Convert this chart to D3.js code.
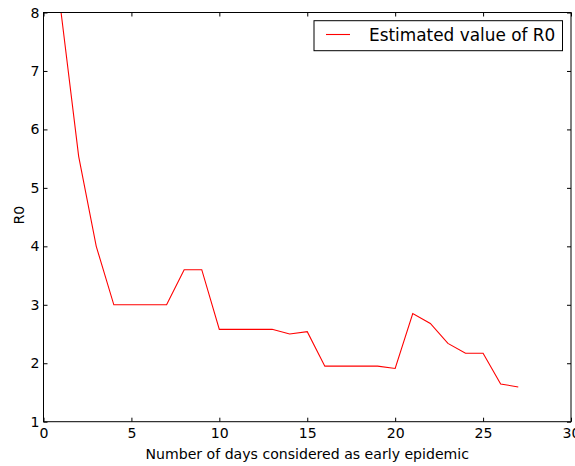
<!DOCTYPE html>
<html>
<head>
<meta charset="utf-8">
<script src="https://cdn.jsdelivr.net/npm/d3@7"></script>
<style>
  body { margin: 0; background: #fff; }
  svg { display: block; font-family: "DejaVu Sans", sans-serif; }
</style>
</head>
<body>
<svg id="chart" width="575" height="466"></svg>
<script>
// days considered as early epidemic
const days = [1, 2, 3, 4, 5, 6, 7, 8, 9, 10, 11, 12, 13, 14, 15, 16, 17, 18, 19, 20, 21, 22, 23, 24, 25, 26, 27];
// estimated R0 for each day count
const r0 = [8.0, 5.54, 4.0, 3.0, 3.0, 3.0, 3.0, 3.6, 3.6, 2.58, 2.58, 2.58, 2.58, 2.5, 2.54, 1.95, 1.95, 1.95, 1.95, 1.91, 2.85, 2.68, 2.34, 2.17, 2.17, 1.645, 1.595];
const xTicks = [0, 5, 10, 15, 20, 25, 30];
const yTicks = [1, 2, 3, 4, 5, 6, 7, 8];
const legendLabel = "Estimated value of R0";

const svg = d3.select("#chart");
const margin = {left: 43.5, top: 12.5, right: 4, bottom: 44.3};
const width = 575, height = 466;
const fs = 14.1;

const x = d3.scaleLinear().domain([0, 30]).range([margin.left, width - margin.right]);
const y = d3.scaleLinear().domain([1, 8]).range([height - margin.bottom, margin.top]);

// clip so the line stays in the frame
svg.append("clipPath").attr("id", "clip")
  .append("rect")
  .attr("x", x(0)).attr("y", y(8))
  .attr("width", x(30) - x(0)).attr("height", y(1) - y(8));

const line = d3.line().x((d, i) => x(days[i])).y(d => y(d));

svg.append("path")
  .datum(r0)
  .attr("clip-path", "url(#clip)")
  .attr("fill", "none")
  .attr("stroke", "#ff0000")
  .attr("stroke-width", 1.1)
  .attr("d", line);

// axes with inward ticks, matplotlib classic style
const tk = 4;
svg.append("g").attr("transform", `translate(0,${y(1)})`)
  .call(d3.axisBottom(x).tickValues(xTicks).tickFormat(d3.format("d")).tickSizeInner(-tk).tickSizeOuter(0).tickPadding(6))
  .call(g => g.select(".domain").remove())
  .call(g => g.selectAll("text").attr("font-size", fs).attr("fill", "#000").attr("font-family", "DejaVu Sans"));

svg.append("g").attr("transform", `translate(0,${y(8)})`)
  .call(d3.axisTop(x).tickValues(xTicks).tickSizeInner(-tk).tickSizeOuter(0).tickFormat(""))
  .call(g => g.select(".domain").remove());

svg.append("g").attr("transform", `translate(${x(0)},0)`)
  .call(d3.axisLeft(y).tickValues(yTicks).tickFormat(d3.format("d")).tickSizeInner(-tk).tickSizeOuter(0).tickPadding(4))
  .call(g => g.select(".domain").remove())
  .call(g => g.selectAll("text").attr("font-size", fs).attr("fill", "#000").attr("font-family", "DejaVu Sans"));

svg.append("g").attr("transform", `translate(${x(30)},0)`)
  .call(d3.axisRight(y).tickValues(yTicks).tickSizeInner(-tk).tickSizeOuter(0).tickFormat(""))
  .call(g => g.select(".domain").remove());

// frame
svg.append("rect")
  .attr("x", x(0)).attr("y", y(8))
  .attr("width", x(30) - x(0)).attr("height", y(1) - y(8))
  .attr("fill", "none").attr("stroke", "#000").attr("stroke-width", 1);

// axis labels
svg.append("text")
  .attr("x", (x(0) + x(30)) / 2).attr("y", 459)
  .attr("text-anchor", "middle").attr("font-size", fs)
  .text("Number of days considered as early epidemic");

svg.append("text")
  .attr("transform", `translate(24,${(y(1) + y(8)) / 2 - 2}) rotate(-90)`)
  .attr("text-anchor", "middle").attr("font-size", fs)
  .text("R0");

// legend
const lg = svg.append("g");
lg.append("rect")
  .attr("x", 314).attr("y", 20.7).attr("width", 248.5).attr("height", 30)
  .attr("fill", "#fff").attr("stroke", "#000").attr("stroke-width", 1);
lg.append("line")
  .attr("x1", 326).attr("x2", 350).attr("y1", 34.5).attr("y2", 34.5)
  .attr("stroke", "#ff0000").attr("stroke-width", 1.1);
lg.append("text")
  .attr("x", 369).attr("y", 41).attr("font-size", 16.9)
  .text(legendLabel);
</script>
</body>
</html>
